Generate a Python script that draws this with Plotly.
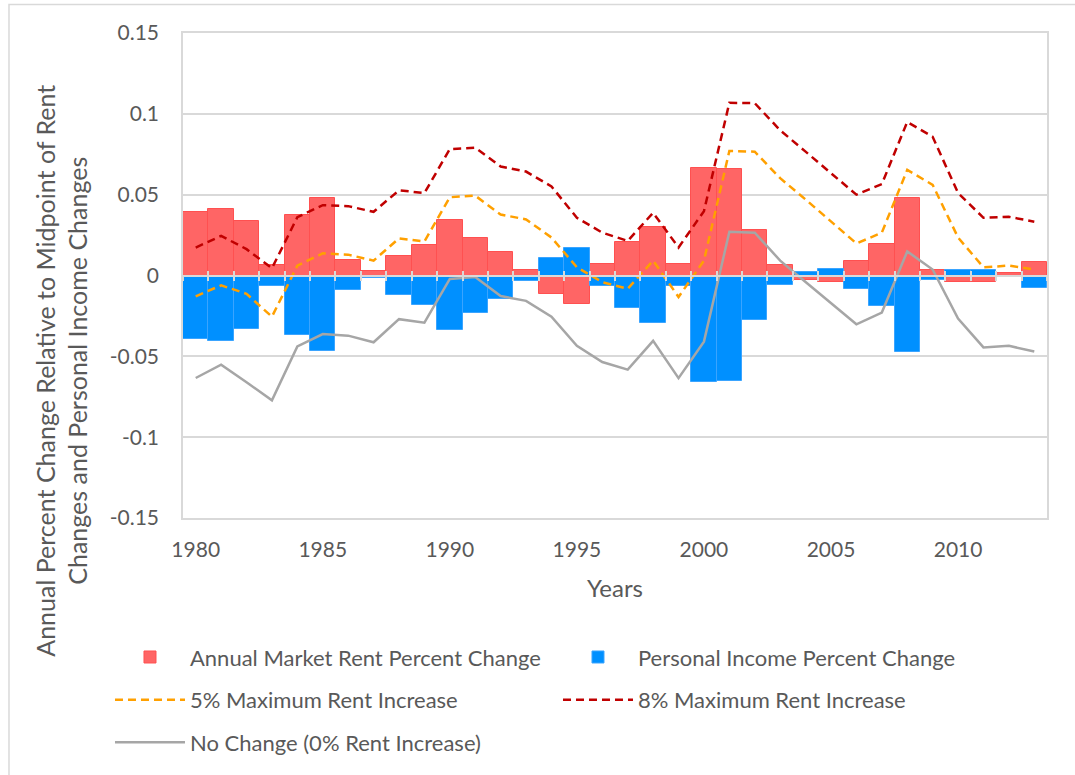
import plotly.graph_objects as go

years = list(range(1980, 2014))

rent_change = [0.0394, 0.0410, 0.0337, 0.0066, 0.0374, 0.0478, 0.0096, 0.0026, 0.0122, 0.0186,
               0.0343, 0.0230, 0.0147, 0.0037, -0.0115, -0.0176, 0.0073, 0.0206, 0.0300, 0.0071,
               0.0662, 0.0656, 0.0279, 0.0065, -0.0029, -0.0043, 0.0088, 0.0192, 0.0478, 0.0031,
               -0.0039, -0.0039, 0.0014, 0.0086]

income_change = [-0.0390, -0.0405, -0.0330, -0.0064, -0.0370, -0.0470, -0.0088, -0.0015, -0.0119, -0.0180,
                 -0.0337, -0.0229, -0.0143, -0.0033, 0.0110, 0.0171, -0.0068, -0.0200, -0.0294, -0.0064,
                 -0.0656, -0.0650, -0.0274, -0.0057, 0.0024, 0.0039, -0.0084, -0.0188, -0.0472, -0.0025,
                 0.0034, 0.0034, -0.0006, -0.0080]

max5 = [-0.0129, -0.0061, -0.0113, -0.0255, 0.0061, 0.0137, 0.0129, 0.0092, 0.0230, 0.0210,
        0.0484, 0.0494, 0.0377, 0.0347, 0.0235, 0.0051, -0.0041, -0.0082, 0.0092, -0.0133,
        0.0092, 0.0770, 0.0766, 0.0602, 0.0470, 0.0337, 0.0198, 0.0265, 0.0653, 0.0561,
        0.0235, 0.0051, 0.0061, 0.0037]

max8 = [0.0173, 0.0245, 0.0163, 0.0045, 0.0361, 0.0435, 0.0429, 0.0394, 0.0527, 0.0510,
        0.0782, 0.0790, 0.0674, 0.0643, 0.0551, 0.0357, 0.0265, 0.0214, 0.0388, 0.0173,
        0.0398, 0.1068, 0.1066, 0.0898, 0.0766, 0.0633, 0.0500, 0.0565, 0.0950, 0.0858,
        0.0510, 0.0357, 0.0363, 0.0333]

no_change = [-0.0634, -0.0552, -0.0660, -0.0772, -0.0439, -0.0362, -0.0372, -0.0413, -0.0270, -0.0292,
             -0.0021, -0.0010, -0.0127, -0.0157, -0.0255, -0.0435, -0.0535, -0.0582, -0.0404, -0.0635,
             -0.0409, 0.0270, 0.0265, 0.0092, -0.0040, -0.0174, -0.0302, -0.0229, 0.0149, 0.0037,
             -0.0266, -0.0445, -0.0435, -0.0470]

year_ticks = [1980, 1985, 1990, 1995, 2000, 2005, 2010]
y_ticks = [0.15, 0.1, 0.05, 0, -0.05, -0.1, -0.15]
y_tick_text = ["0.15", "0.1", "0.05", "0", "-0.05", "-0.1", "-0.15"]

FONT = "Lato"
TXT = "#595959"
GRID = "#d9d9d9"

fig = go.Figure()
fig.add_trace(go.Bar(x=years, y=rent_change, name="Annual Market Rent Percent Change",
                     width=1.0, marker=dict(color="#FF6565", line=dict(color="#FF5050", width=1)),
                     legend="legend"))
fig.add_trace(go.Bar(x=years, y=income_change, name="Personal Income Percent Change",
                     width=1.0, marker=dict(color="#0090FF", line=dict(color="#3AA4FF", width=1)),
                     legend="legend"))
fig.add_trace(go.Scatter(x=years, y=max5, name="5% Maximum Rent Increase", mode="lines",
                         line=dict(color="#FFA000", width=2.5, dash="8px,5px"),
                         xaxis="x2", legend="legend2"))
fig.add_trace(go.Scatter(x=years, y=max8, name="8% Maximum Rent Increase", mode="lines",
                         line=dict(color="#C00000", width=2.5, dash="8px,5px"),
                         xaxis="x2", legend="legend2"))
fig.add_trace(go.Scatter(x=years, y=no_change, name="No Change (0% Rent Increase)", mode="lines",
                         line=dict(color="#A6A6A6", width=2.5),
                         xaxis="x3", legend="legend3"))

xr = [years[0] - 0.5, years[-1] + 0.5]
boundaries = [y - 0.5 for y in years] + [years[-1] + 0.5]

legend_common = dict(orientation="h", xanchor="left", yanchor="middle", x=-0.0845,
                     entrywidth=363, entrywidthmode="pixels", itemwidth=70,
                     font=dict(family=FONT, size=22, color=TXT), bgcolor="rgba(0,0,0,0)",
                     itemclick=False, itemdoubleclick=False)

fig.update_layout(
    width=1075, height=775,
    margin=dict(l=183, r=28, t=33, b=252),
    paper_bgcolor="white", plot_bgcolor="white",
    barmode="overlay", bargap=0,
    font=dict(family=FONT, size=21, color=TXT),
    xaxis=dict(range=xr, tickvals=year_ticks, ticks="", showgrid=False, zeroline=False,
               showline=True, mirror=True, linecolor=GRID, linewidth=1.5,
               tickfont=dict(family=FONT, size=21, color=TXT), ticklabelstandoff=12,
               title=dict(text="Years", font=dict(family=FONT, size=24, color=TXT), standoff=20)),
    xaxis2=dict(range=xr, overlaying="x", anchor="free", position=0.5, tickvals=boundaries,
                ticks="outside", ticklen=5, tickwidth=1.5, tickcolor=GRID, showticklabels=False,
                showgrid=False, zeroline=False, showline=True, linecolor=GRID, linewidth=1.5),
    xaxis3=dict(range=xr, overlaying="x", anchor="free", position=0.5, tickvals=boundaries,
                ticks="inside", ticklen=5, tickwidth=1.5, tickcolor=GRID, showticklabels=False,
                showgrid=False, zeroline=False, showline=False),
    yaxis=dict(range=[-0.15, 0.15], tickvals=y_ticks, ticktext=y_tick_text, showgrid=True,
               gridcolor=GRID, gridwidth=1.5, zeroline=False, showline=True, mirror=True,
               linecolor=GRID, linewidth=1.5, ticks="", ticklabelstandoff=18,
               tickfont=dict(family=FONT, size=21, color=TXT)),
    legend=dict(legend_common, y=-0.287),
    legend2=dict(legend_common, y=-0.375),
    legend3=dict(legend_common, y=-0.463),
    showlegend=True,
)

fig.add_annotation(text="Annual Percent Change Relative to Midpoint of Rent<br>Changes and Personal Income Changes",
                   xref="paper", yref="paper", x=-0.141, y=0.304, xanchor="center", yanchor="middle",
                   textangle=-90, showarrow=False,
                   font=dict(family=FONT, size=25, color=TXT))

fig.add_shape(type="rect", xref="paper", yref="paper", x0=-0.2014, y0=-0.7, x1=1.2, y1=1.059,
              line=dict(color=GRID, width=1.5), fillcolor="rgba(0,0,0,0)", layer="below")

fig.write_html("out.html", config={"displayModeBar": False},
               post_script="document.body.style.margin='0';")
